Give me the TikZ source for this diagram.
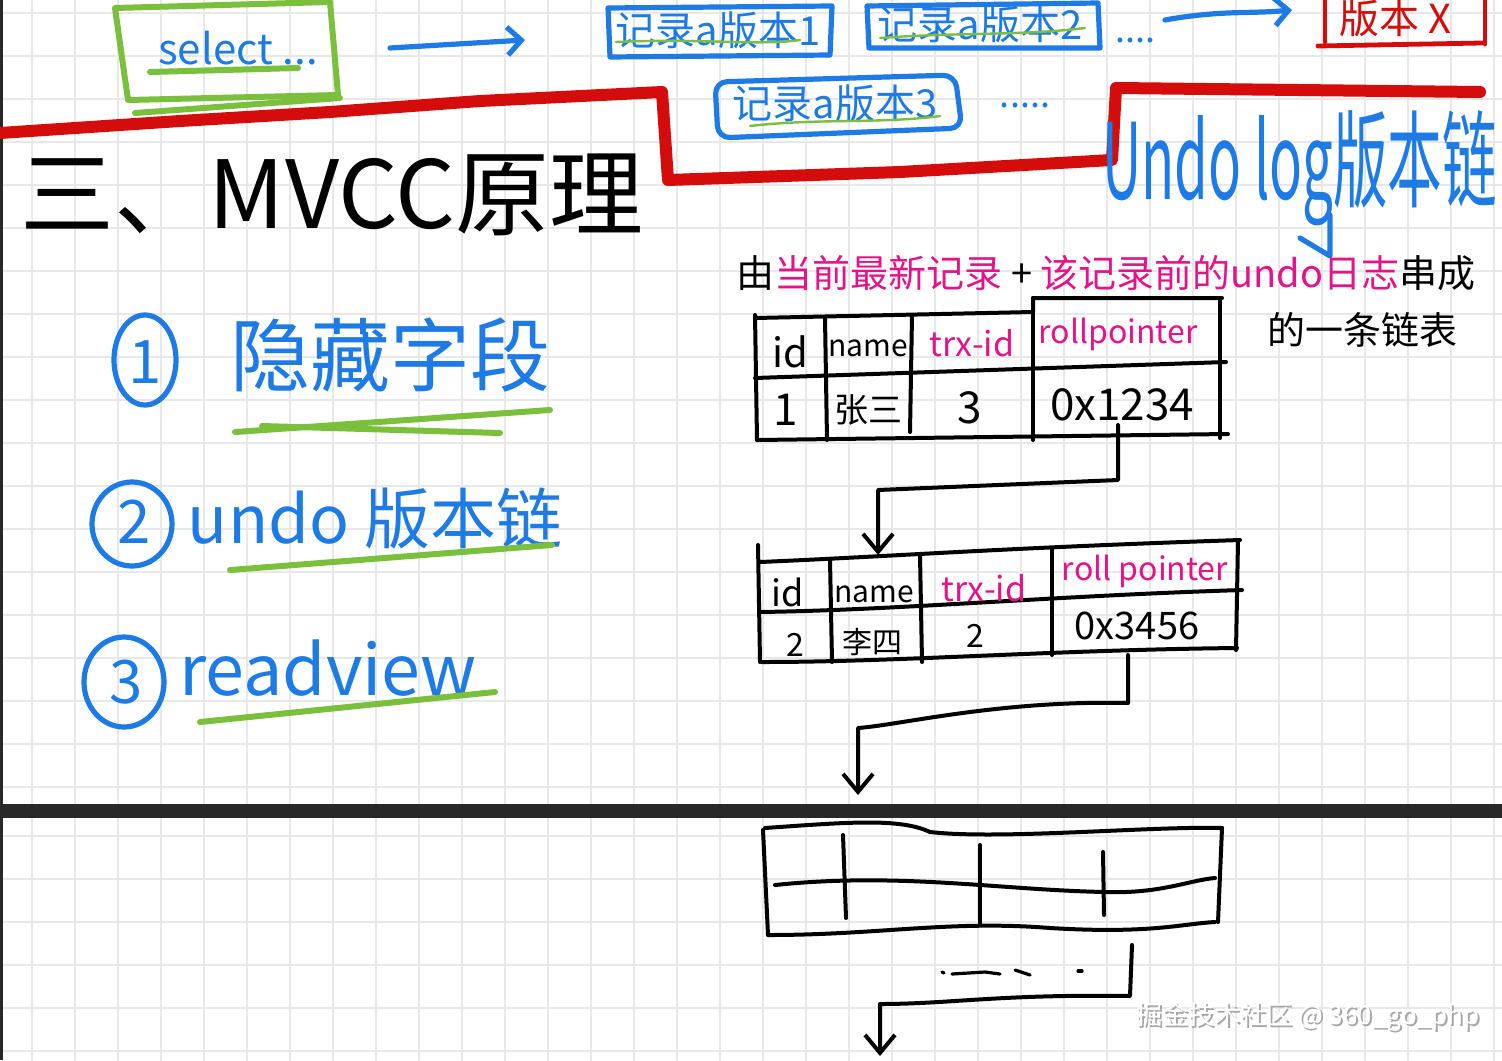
\documentclass[tikz,border=0pt]{standalone}
\usepackage{fontspec}
\newfontfamily\cjk{Noto Sans CJK SC}
\usetikzlibrary{arrows.meta}
\definecolor{blueink}{RGB}{30,122,228}
\definecolor{greenink}{RGB}{122,192,60}
\definecolor{redink}{RGB}{212,12,12}
\definecolor{magink}{RGB}{226,20,136}
\definecolor{gridc}{RGB}{232,232,232}
\definecolor{bandc}{RGB}{40,40,40}
\newcommand\myfs[1]{\fontsize{#1}{#1}\selectfont}
\begin{document}
\begin{tikzpicture}[x=0.5pt,y=-0.5pt,line cap=round,line join=round,
  txt/.style={inner sep=0pt,font=\cjk},
  blueline/.style={draw=blueink,line width=2.6pt},
  greenline/.style={draw=greenink,line width=3pt},
  greenthin/.style={draw=greenink,line width=1.2pt},
  redline/.style={draw=redink,line width=6pt},
  redthin/.style={draw=redink,line width=2.4pt},
  tab/.style={draw=black,line width=2pt},
  arr/.style={draw=black,line width=2pt,-{Straight Barb[length=9pt,width=15pt,line width=2pt]}},
  barr/.style={draw=blueink,line width=2.6pt,-{Straight Barb[length=7pt,width=14pt,line width=2.6pt]}}]
\useasboundingbox (0,0) rectangle (1502,1060);
\clip (0,0) rectangle (1502,1060);
\fill[white] (0,0) rectangle (1502,1060);
% grid
\foreach \gx in {32,75,...,1502} {\draw[gridc,line width=1pt] (\gx,0) -- (\gx,805); \draw[gridc,line width=1pt] (\gx,818) -- (\gx,1060);}
\foreach \gy in {13,56,...,800} {\draw[gridc,line width=1pt] (0,\gy) -- (1502,\gy);}
\foreach \gy in {836,879,...,1060} {\draw[gridc,line width=1pt] (0,\gy) -- (1502,\gy);}
% borders
\fill[bandc] (0,804) rectangle (1502,818);
\fill[bandc] (0,0) rectangle (3,1060);

% ---------- top row ----------
\draw[greenline] (115,8) -- (330,2) -- (338,95) -- (128,100) -- cycle;
\draw[greenline] (135,113) -- (340,98);
\node[txt,text=blueink,font={\cjk\myfs{21}}] (sel) at (238,48) {select ...};
\draw[greenline] (150,72) -- (298,68);

\node[txt,text=blueink,font={\cjk\myfs{20}}] (v1) at (718,30) {记录a版本1};
\draw[greenthin] (616,42) .. controls (700,38) and (760,46) .. (800,40);
\draw[blueline] (608,8) -- (832,6) -- (830,55) -- (610,57) -- cycle;
\node[txt,text=blueink,font={\cjk\myfs{20}}] (v2) at (980,24) {记录a版本2};
\draw[greenthin] (880,38) .. controls (960,32) and (1020,36) .. (1085,28);
\draw[blueline] (867,6) -- (1098,3) -- (1100,48) -- (869,48) -- cycle;
\node[txt,text=blueink,font={\cjk\myfs{18}}] (dots1) at (1135,40) {....};

\node[txt,text=blueink,font={\cjk\myfs{20}}] (v3) at (835,103) {记录a版本3};
\draw[greenthin] (750,126) .. controls (820,118) and (880,124) .. (940,116);
\draw[blueline,rounded corners=6pt] (715,82) -- (955,75) -- (962,128) -- (718,138) -- cycle;
\node[txt,text=blueink,font={\cjk\myfs{18}}] (dots2) at (1025,105) {.....};

\draw[barr] (390,48) -- (525,40);
\draw[barr] (1165,20) .. controls (1220,10) and (1250,14) .. (1292,10);

\node[txt,text=redink,font={\cjk\myfs{20}}] (vx) at (1395,18) {版本 X};
\draw[redthin] (1325,-5) -- (1325,42);
\draw[redthin] (1318,46) -- (1482,43);
\draw[redthin] (1485,-5) -- (1485,44);

% red separator
\draw[redline] (0,133) -- (180,121) -- (330,112) -- (480,101) -- (662,92) -- (668,180) -- (900,172) -- (1112,160) -- (1116,88) -- (1480,92);

% title
\node[txt,font={\cjk\myfs{47}}] (title) at (332,195) {三、MVCC原理};
\node[txt,text=blueink,font={\cjk\myfs{44}},anchor=west,xscale=0.62,yscale=1.2] (undolog) at (1102,168) {Undo log版本链};
\draw[blueline] (1330,215) -- (1330,256) -- (1300,238);

% description
\node[txt,font={\cjk\myfs{19}}] (desc) at (1106,273) {由\textcolor{magink}{当前最新记录} + \textcolor{magink}{该记录前的undo日志}串成};
\node[txt,font={\cjk\myfs{19}}] (desc2) at (1362,330) {的一条链表};

% ---------- left list ----------
\draw[blueline] (145,360) ellipse [x radius=31, y radius=45];
\node[txt,text=blueink,font={\cjk\myfs{30}}] (n1) at (145,362) {1};
\node[txt,text=blueink,font={\cjk\myfs{40}}] (l1) at (390,355) {隐藏字段};
\draw[greenline] (235,432) -- (550,410);
\draw[greenline] (262,426) -- (500,433);

\draw[blueline] (132,524) ellipse [x radius=40, y radius=42];
\node[txt,text=blueink,font={\cjk\myfs{30}}] (n2) at (134,522) {2};
\node[txt,text=blueink,font={\cjk\myfs{33}}] (l2) at (375,518) {undo 版本链};
\draw[greenline] (230,570) -- (552,545);

\draw[blueline] (124,682) ellipse [x radius=40, y radius=45];
\node[txt,text=blueink,font={\cjk\myfs{30}}] (n3) at (126,682) {3};
\node[txt,text=blueink,font={\cjk\myfs{35}}] (l3) at (328,668) {readview};
\draw[greenline] (200,722) -- (495,692);

% ---------- table 1 ----------
\draw[tab] (755,318) -- (1033,312) -- (1033,298) -- (1222,298);
\draw[tab] (755,378) -- (1226,362);
\draw[tab] (757,440) -- (1228,434);
\draw[tab] (755,315) -- (757,440);
\draw[tab] (825,318) -- (827,440);
\draw[tab] (912,315) -- (910,432);
\draw[tab] (1033,298) -- (1033,440);
\draw[tab] (1220,298) -- (1220,438);
\node[txt,font={\cjk\myfs{20}}] (h1a) at (790,352) {id};
\node[txt,font={\cjk\myfs{15}}] (h1b) at (868,348) {name};
\node[txt,text=magink,font={\cjk\myfs{17}}] (h1c) at (972,343) {trx-id};
\node[txt,text=magink,font={\cjk\myfs{16}}] (h1d) at (1118,334) {rollpointer};
\node[txt,font={\cjk\myfs{22}}] (d1a) at (786,410) {1};
\node[txt,font={\cjk\myfs{17}}] (d1b) at (868,410) {张三};
\node[txt,font={\cjk\myfs{22}}] (d1c) at (970,408) {3};
\node[txt,font={\cjk\myfs{22}}] (d1d) at (1122,405) {0x1234};

% ---------- table 2 ----------
\draw[tab] (760,562) .. controls (900,556) and (1000,548) .. (1240,540);
\draw[tab] (760,612) .. controls (900,610) and (1050,596) .. (1242,590);
\draw[tab] (762,662) .. controls (900,662) and (1050,650) .. (1237,648);
\draw[tab] (758,545) -- (760,662);
\draw[tab] (830,560) -- (832,662);
\draw[tab] (920,555) -- (922,662);
\draw[tab] (1052,548) -- (1052,655);
\draw[tab] (1238,540) -- (1236,650);
\node[txt,font={\cjk\myfs{18}}] (h2a) at (788,592) {id};
\node[txt,font={\cjk\myfs{15}}] (h2b) at (874,594) {name};
\node[txt,text=magink,font={\cjk\myfs{17}}] (h2c) at (984,588) {trx-id};
\node[txt,text=magink,font={\cjk\myfs{16}}] (h2d) at (1145,571) {roll pointer};
\node[txt,font={\cjk\myfs{16}}] (d2a) at (795,645) {2};
\node[txt,font={\cjk\myfs{15}}] (d2b) at (872,642) {李四};
\node[txt,font={\cjk\myfs{16}}] (d2c) at (975,636) {2};
\node[txt,font={\cjk\myfs{19}}] (d2d) at (1137,626) {0x3456};

% ---------- table 3 ----------
\draw[tab] (765,828) .. controls (850,822) and (900,818) .. (930,832) .. controls (1000,840) and (1150,826) .. (1222,828);
\draw[tab] (775,885) .. controls (900,872) and (1000,890) .. (1105,892) .. controls (1160,894) and (1190,880) .. (1215,878);
\draw[tab] (768,935) .. controls (880,935) and (950,920) .. (1050,928) .. controls (1150,934) and (1180,924) .. (1215,922);
\draw[tab] (763,830) -- (768,935);
\draw[tab] (1222,828) -- (1218,922);
\draw[tab] (843,835) -- (846,918);
\draw[tab] (980,845) -- (980,925);
\draw[tab] (1103,852) -- (1104,915);

% dashes
\draw[tab,line width=1.6pt] (942,972) -- (944,973);
\draw[tab,line width=1.6pt] (952,974) -- (985,972) -- (1000,974);
\draw[tab,line width=1.6pt] (1015,970) -- (1030,975);
\draw[tab,line width=1.6pt] (1078,971) -- (1082,971);

% ---------- connectors ----------
\coordinate (c1s) at (1118,425);
\coordinate (c1a) at (1118,480);
\coordinate (c1b) at (878,490);
\coordinate (c1e) at (878,555);
\draw[arr] (c1s) -- (c1a) -- (c1b) -- (c1e);
\coordinate (c2s) at (1128,655);
\coordinate (c2a) at (1128,703);
\coordinate (c2b) at (858,728);
\coordinate (c2e) at (858,795);
\draw[arr] (c2s) -- (c2a) .. controls (1000,700) and (900,725) .. (c2b) -- (c2e);
\coordinate (c3s) at (1132,945);
\coordinate (c3a) at (1130,996);
\coordinate (c3b) at (880,1004);
\coordinate (c3e) at (880,1056);
\draw[arr] (c3s) -- (c3a) .. controls (1000,994) and (950,1004) .. (c3b) -- (c3e);

% watermark
\node[txt,text=gray!70,font={\cjk\myfs{13}}] (wm0) at (1310,1019) {掘金技术社区 @ 360\_go\_php};
\node[txt,text=white,font={\cjk\myfs{13}}] (wm) at (1308,1017) {掘金技术社区 @ 360\_go\_php};
\end{tikzpicture}
\end{document}
